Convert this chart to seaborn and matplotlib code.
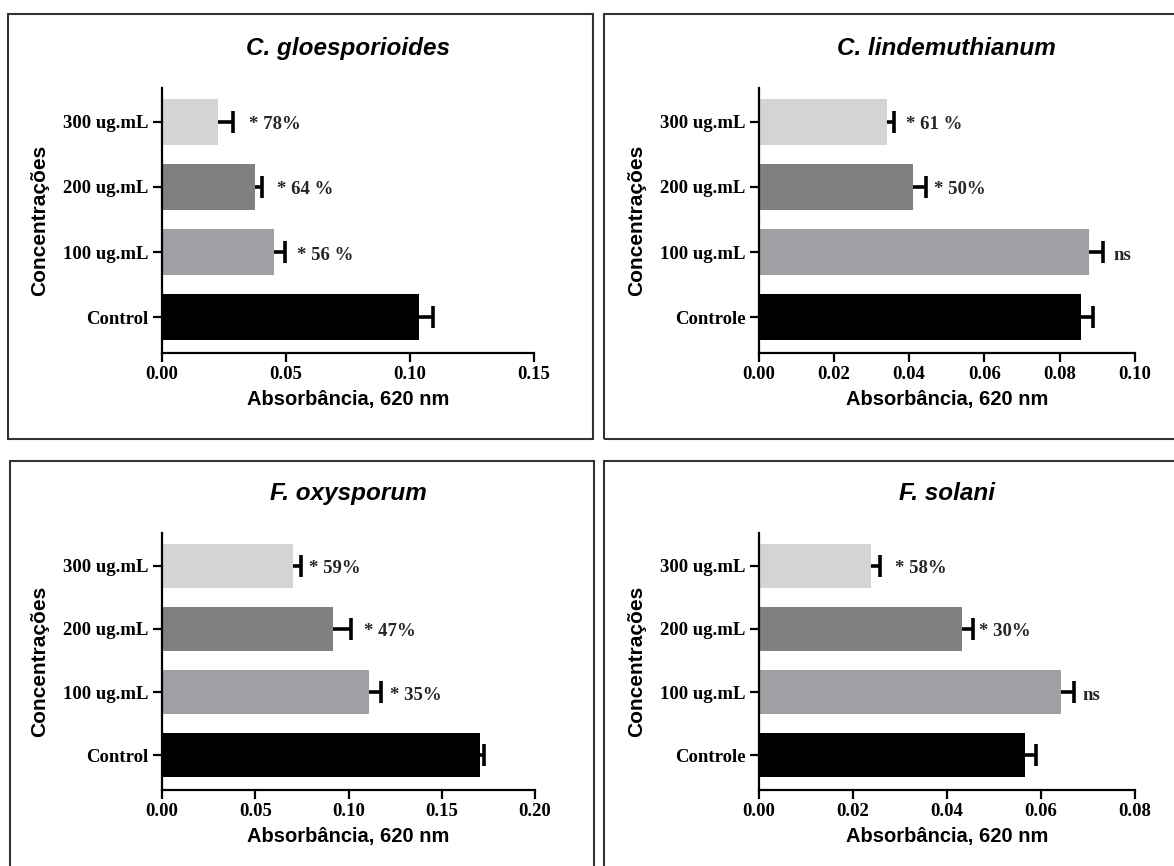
import matplotlib
matplotlib.use("Agg")
import matplotlib.pyplot as plt
import matplotlib.patches as mpatches
import seaborn as sns
import numpy as np
import pandas as pd

# ---------------- data ----------------
categories_a = ["300 ug.mL", "200 ug.mL", "100 ug.mL", "Control"]
categories_b = ["300 ug.mL", "200 ug.mL", "100 ug.mL", "Controle"]

titles = ["C. gloesporioides", "C. lindemuthianum", "F. oxysporum", "F. solani"]

values_gloeo = [0.0225, 0.0375, 0.0451, 0.1036]
errors_gloeo = [0.0061, 0.0030, 0.0046, 0.0059]
labels_gloeo = ["* 78%", "* 64 %", "* 56 %", ""]

values_linde = [0.0340, 0.0411, 0.0879, 0.0856]
errors_linde = [0.0019, 0.0033, 0.0036, 0.0033]
labels_linde = ["* 61 %", "* 50%", "ns", ""]

values_oxy = [0.0701, 0.0915, 0.1111, 0.1705]
errors_oxy = [0.0044, 0.0097, 0.0065, 0.0020]
labels_oxy = ["* 59%", "* 47%", "* 35%", ""]

values_solani = [0.0239, 0.0432, 0.0643, 0.0566]
errors_solani = [0.0019, 0.0024, 0.0027, 0.0024]
labels_solani = ["* 58%", "* 30%", "ns", ""]

xticks_gloeo = [0.00, 0.05, 0.10, 0.15]
xticks_linde = [0.00, 0.02, 0.04, 0.06, 0.08, 0.10]
xticks_oxy = [0.00, 0.05, 0.10, 0.15, 0.20]
xticks_solani = [0.00, 0.02, 0.04, 0.06, 0.08]

x_label = "Absorbância, 620 nm"
y_label = "Concentrações"

# ---------------- style ----------------
bar_colors = ["#D4D4D4", "#808080", "#A0A0A4", "#000000"]
W, H = 1174, 866
DPI = 100

sns.set_style("ticks")
plt.rcParams["font.family"] = ["Liberation Sans", "DejaVu Sans"]

fig = plt.figure(figsize=(W / DPI, H / DPI), dpi=DPI)

# axes rectangles in pixel coords: left, right, top, bottom
rects = [(161.7, 534.0, 88, 353), (758.5, 1135.0, 88, 353),
         (162.0, 535.0, 533, 790), (758.5, 1135.0, 533, 790)]
# panel frames: left, top, right, bottom (pixels)
frames = [(8, 14, 593, 439), (604, 14, 1180, 439),
          (10, 461, 594, 872), (604, 461, 1180, 872)]
# horizontal gap (px) between error cap and annotation
label_gaps = [[14, 13, 10, 0], [10, 6, 8, 0], [6, 11, 7, 0], [13, 4, 7, 0]]

panels = [
    (categories_a, values_gloeo, errors_gloeo, labels_gloeo, xticks_gloeo),
    (categories_b, values_linde, errors_linde, labels_linde, xticks_linde),
    (categories_a, values_oxy, errors_oxy, labels_oxy, xticks_oxy),
    (categories_b, values_solani, errors_solani, labels_solani, xticks_solani),
]

for (l, t, r, b) in frames:
    fig.patches.append(mpatches.Rectangle(
        (l / W, 1 - b / H), (r - l) / W, (b - t) / H,
        transform=fig.transFigure, fill=False, edgecolor="#333333",
        linewidth=1.5, zorder=0))

serif = ["Liberation Serif", "DejaVu Serif"]

for i, (cats, vals, errs, labs, xt) in enumerate(panels):
    l, r, t, b = rects[i]
    ax = fig.add_axes([l / W, 1 - b / H, (r - l) / W, (b - t) / H])
    df = pd.DataFrame({"cat": cats, "val": vals})
    sns.barplot(data=df, x="val", y="cat", hue="cat", palette=bar_colors,
                orient="h", width=0.7, errorbar=None, legend=False,
                saturation=1, ax=ax, linewidth=0)
    ypos = np.arange(len(cats))
    eb = ax.errorbar(vals, ypos, xerr=[np.zeros(len(vals)), errs], fmt="none",
                     ecolor="black", elinewidth=2.6, capsize=7.9, capthick=2.6,
                     zorder=5)
    # keep only the outer (right) caps, as in a one-sided error bar
    for cl in eb[1]:
        if np.allclose(cl.get_xdata(), vals):
            cl.set_visible(False)
    for k, txt in enumerate(labs):
        if txt:
            ax.annotate(txt, xy=(vals[k] + errs[k], ypos[k]), xycoords="data",
                        xytext=(label_gaps[i][k] + 2, -3), textcoords="offset pixels",
                        ha="left", va="center", fontsize=13.5,
                        fontweight="bold", family=serif)
    ax.set_xlim(xt[0], xt[-1])
    ax.set_ylim(3.55, -0.52)
    ax.set_xticks(xt)
    ax.set_xticklabels([f"{v:.2f}" for v in xt])
    for lab in ax.get_xticklabels() + ax.get_yticklabels():
        lab.set_fontfamily(serif)
        lab.set_fontweight("bold")
        lab.set_fontsize(13.5)
        lab.set_color("black")
    sns.despine(ax=ax)
    for sp in ("left", "bottom"):
        ax.spines[sp].set_linewidth(1.6)
        ax.spines[sp].set_color("black")
    ax.tick_params(axis="both", direction="out", length=6.5, width=1.6,
                   color="black", pad=3)
    ax.set_xlabel(x_label, fontsize=14.5, fontweight="bold", labelpad=5,
                  color="black")
    ax.set_ylabel(y_label, fontsize=15, fontweight="bold", labelpad=10,
                  color="black")
    ax.set_title(titles[i], fontsize=17.5, fontweight="bold", style="italic",
                 pad=23.7, color="black")
    ax.set_facecolor("none")
    ax.grid(False)

fig.savefig("out.png", dpi=DPI)
